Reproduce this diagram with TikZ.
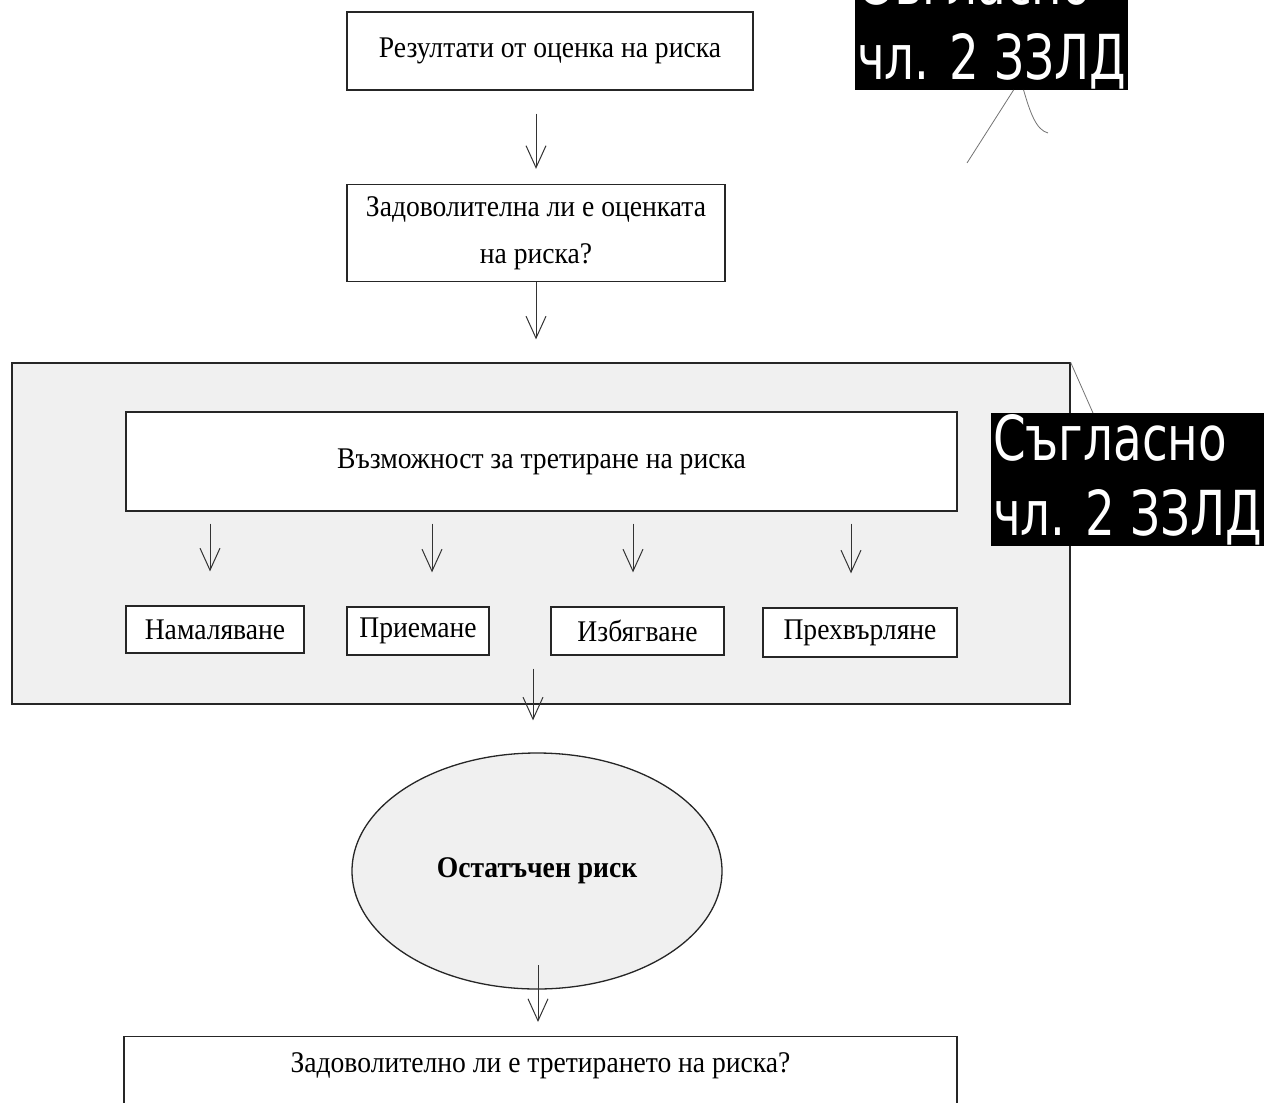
\documentclass[tikz,border=0pt]{standalone}
\usepackage{fontspec}
\setmainfont{Liberation Serif}[FakeStretch=0.92]
\newfontfamily\lblfont{DejaVu Sans}[FakeStretch=0.755]
\usetikzlibrary{arrows.meta,shapes.geometric,positioning,calc}

\tikzset{
  box/.style={draw=black!85, line width=1.3pt, fill=white, inner sep=0pt},
  arr/.style={line width=1pt, draw=black!80, -{Straight Barb[length=22pt,width=20pt,line width=1pt]}},
  lbl/.style={fill=black, text=white, font=\lblfont\fontsize{62}{75}\selectfont, align=left, inner xsep=2pt, inner ysep=1pt},
  pointer/.style={line width=0.8pt, draw=black!55},
}

\begin{document}
\begin{tikzpicture}[x=1pt,y=-1pt]
		\tikzstyle{every node}=[font=\fontsize{30}{47}\selectfont]
		\useasboundingbox (0,0) rectangle (1264,1103);
		\clip (0,0) rectangle (1264,1103);
		\node [box, minimum width=406pt, minimum height=78pt] (rez) at (550,51) {Резултати от оценка на риска};
		\node [box, minimum width=378pt, minimum height=97pt, align=center] (zad) at (536,233) {Задоволителна ли е оценката\\на риска?};
		\node [draw=black!85, line width=1.3pt, fill=black!6, minimum width=1058pt, minimum height=341pt] (cont) at (541,533.5) {};
		\node [box, minimum width=831pt, minimum height=99pt] (vazm) at (541.5,461.5) {Възможност за третиране на риска};
		\node [box, minimum width=178pt, minimum height=47pt] (namal) at (215,629.5) {Намаляване};
		\node [box, minimum width=142pt, minimum height=48pt] (priem) at (418,631) {Приемане};
		\node [box, minimum width=173pt, minimum height=48pt] (izbyag) at (637.5,631) {Избягване};
		\node [box, minimum width=194pt, minimum height=49pt] (prehv) at (860,632.5) {Прехвърляне};
		\node [ellipse, draw=black!85, line width=1.3pt, fill=black!6, inner sep=0pt, minimum width=370pt, minimum height=236pt, font=\fontsize{30}{36}\selectfont\bfseries] (ost) at (537,871) {Остатъчен риск};
		\node [box, anchor=north, minimum width=833pt, inner ysep=16pt, text depth=80pt] (last) at (540.5,1036) {Задоволително ли е третирането на риска?};
		\draw [arr, shorten <=23pt, shorten >=15pt] (zad.north |- rez.south) -- (zad.north);
		\draw [arr, shorten >=23pt] (zad.south) -- (zad.south |- cont.north);
		\foreach \b/\x in {namal/210,priem/432,izbyag/633,prehv/851}
			\draw [arr, shorten <=12pt, shorten >=34pt] (vazm.south -| \x,0) -- (\b.north -| \x,0);
		\draw [arr, shorten <=13pt, shorten >=32pt] (priem.south -| 533,0) -- (ost.north -| 533,0);
		\draw [arr, shorten <=94pt, shorten >=14pt] (ost.center -| 538,0) -- (last.north -| 538,0);
		\node [lbl, anchor=north west] (zzld) at (991,413) {Съгласно\\чл. 2 ЗЗЛД};
		\node [lbl, anchor=south west] (zzldtop) at (855,90) {Съгласно\\чл. 2 ЗЗЛД};
		\coordinate (p1) at (967,163);
		\coordinate (p2) at (1048,133);
		\draw [pointer] ($(zzldtop.south)+(22,0)$) -- (p1);
		\draw [pointer] ($(zzldtop.south)+(32,0)$) .. controls (1030,112) and (1036,130) .. (p2);
		\draw [pointer] (cont.north east) -- ($(zzld.north west)+(102,0)$);
	\end{tikzpicture}
\end{document}
